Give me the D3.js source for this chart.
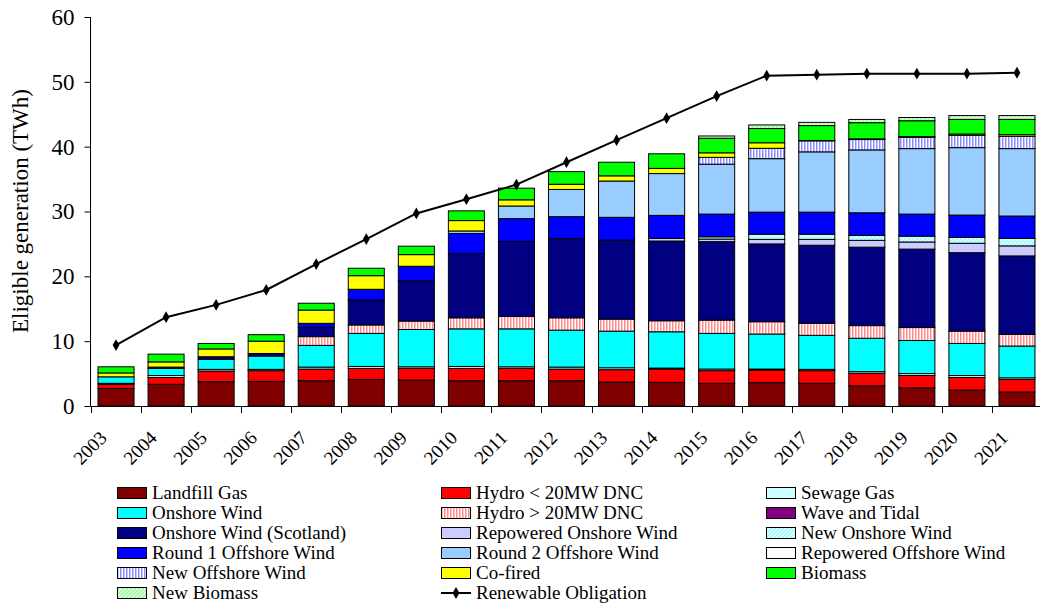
<!DOCTYPE html>
<html>
<head>
<meta charset="utf-8">
<script src="https://cdn.jsdelivr.net/npm/d3@7"></script>
<style>
  html, body { margin: 0; padding: 0; background: #fff; }
  svg text { font-family: "Liberation Serif", "Times New Roman", serif; fill: #000; }
</style>
</head>
<body>
<svg id="chart" width="1040" height="603"></svg>
<script>
// Eligible renewable generation by technology (TWh), stacked, with the Renewable Obligation line
const years = ["2003","2004","2005","2006","2007","2008","2009","2010","2011","2012",
               "2013","2014","2015","2016","2017","2018","2019","2020","2021"];

const landfillGas       = [2.7, 3.35, 3.75, 3.8, 3.9, 4.1, 4.0, 3.9, 3.9, 3.9, 3.7, 3.65, 3.5, 3.6, 3.5, 3.1, 2.8, 2.45, 2.15];
const hydroSmall        = [0.65, 1.05, 1.65, 1.65, 1.8, 1.7, 1.8, 1.9, 1.9, 1.8, 1.9, 2.05, 1.95, 1.95, 1.95, 1.95, 1.9, 1.95, 1.95];
const sewageGas         = [0.15, 0.3, 0.25, 0.2, 0.3, 0.3, 0.25, 0.3, 0.25, 0.3, 0.3, 0.15, 0.25, 0.15, 0.2, 0.25, 0.3, 0.3, 0.25];
const onshoreWind       = [1.0, 1.1, 1.55, 2.05, 3.35, 5.1, 5.75, 5.8, 5.85, 5.7, 5.65, 5.6, 5.5, 5.4, 5.25, 5.15, 5.1, 4.95, 4.9];
const hydroLarge        = [0, 0, 0, 0, 1.35, 1.3, 1.3, 1.7, 1.9, 1.9, 1.85, 1.7, 2.05, 1.9, 1.85, 1.95, 2.0, 1.9, 1.8];
const waveTidal         = [0, 0, 0, 0, 0, 0, 0, 0, 0, 0, 0, 0, 0, 0, 0, 0, 0, 0, 0];
const onshoreScotland   = [0, 0.2, 0.4, 0.4, 1.45, 3.85, 6.2, 9.9, 11.6, 12.2, 12.2, 12.3, 12.1, 12.0, 12.05, 12.1, 12.1, 12.1, 12.1];
const repoweredOnshore  = [0, 0, 0, 0, 0, 0, 0, 0, 0, 0, 0, 0.4, 0.4, 0.7, 0.9, 1.05, 1.1, 1.45, 1.55];
const newOnshore        = [0, 0, 0, 0, 0, 0, 0, 0, 0, 0, 0, 0, 0.35, 0.8, 0.8, 0.75, 0.9, 0.9, 1.15];
const round1Offshore    = [0, 0, 0, 0, 0.6, 1.65, 2.25, 3.1, 3.5, 3.4, 3.5, 3.55, 3.5, 3.4, 3.4, 3.5, 3.4, 3.45, 3.45];
const round2Offshore    = [0, 0, 0, 0, 0, 0, 0, 0.4, 1.95, 4.2, 5.6, 6.45, 7.7, 8.25, 9.3, 9.7, 10.1, 10.4, 10.4];
const repoweredOffshore = [0, 0, 0, 0, 0, 0, 0, 0, 0, 0, 0, 0, 0, 0, 0, 0, 0, 0, 0];
const newOffshore       = [0, 0, 0, 0, 0, 0, 0, 0, 0, 0, 0, 0, 1.05, 1.6, 1.7, 1.6, 1.75, 1.9, 1.9];
const coFired           = [0.6, 0.8, 1.2, 1.9, 2.05, 2.1, 1.8, 1.6, 0.95, 0.8, 0.8, 0.8, 0.7, 0.85, 0.05, 0.1, 0.1, 0.2, 0.25];
const biomass           = [0.95, 1.2, 0.85, 1.0, 1.05, 1.15, 1.3, 1.5, 1.8, 1.95, 2.1, 2.25, 2.25, 2.2, 2.3, 2.5, 2.45, 2.25, 2.35];
const newBiomass        = [0, 0, 0, 0, 0, 0, 0, 0, 0, 0, 0, 0, 0.35, 0.55, 0.5, 0.5, 0.5, 0.6, 0.6];
const renewableObligation = [9.4, 13.7, 15.6, 17.9, 21.9, 25.75, 29.7, 31.9, 34.15, 37.6, 41.0, 44.4, 47.8, 50.95, 51.1, 51.25, 51.25, 51.25, 51.4];

const yTicks = [0, 10, 20, 30, 40, 50, 60];

// Series in stacking order (bottom to top), which is also the legend order
const series = [
  { name: "Landfill Gas",              values: landfillGas,       fill: "#800000" },
  { name: "Hydro < 20MW DNC",          values: hydroSmall,        fill: "#ff0000" },
  { name: "Sewage Gas",                values: sewageGas,         fill: "#ccffff" },
  { name: "Onshore Wind",              values: onshoreWind,       fill: "#00ffff" },
  { name: "Hydro > 20MW DNC",          values: hydroLarge,        fill: "url(#pat-hydro)" },
  { name: "Wave and Tidal",            values: waveTidal,         fill: "#800080" },
  { name: "Onshore Wind (Scotland)",   values: onshoreScotland,   fill: "#000080" },
  { name: "Repowered Onshore Wind",    values: repoweredOnshore,  fill: "#ccccff" },
  { name: "New Onshore Wind",          values: newOnshore,        fill: "url(#pat-newonshore)" },
  { name: "Round 1 Offshore Wind",     values: round1Offshore,    fill: "#0000ff" },
  { name: "Round 2 Offshore Wind",     values: round2Offshore,    fill: "#99ccff" },
  { name: "Repowered Offshore Wind",   values: repoweredOffshore, fill: "#ffffff" },
  { name: "New Offshore Wind",         values: newOffshore,       fill: "url(#pat-newoffshore)" },
  { name: "Co-fired",                  values: coFired,           fill: "#ffff00" },
  { name: "Biomass",                   values: biomass,           fill: "#00ff00" },
  { name: "New Biomass",               values: newBiomass,        fill: "url(#pat-newbiomass)" }
];

const svg = d3.select("#chart");
svg.append("rect").attr("width", 1040).attr("height", 603).attr("fill", "#fff");

// Fill patterns
const defs = svg.append("defs");
function stripes(id, bg, fg, w) {
  const p = defs.append("pattern").attr("id", id).attr("patternUnits", "userSpaceOnUse")
    .attr("width", 3).attr("height", 3);
  p.append("rect").attr("width", 3).attr("height", 3).attr("fill", bg);
  p.append("rect").attr("x", 0).attr("width", w).attr("height", 3).attr("fill", fg);
}
function diagonal(id, bg, fg) {
  const p = defs.append("pattern").attr("id", id).attr("patternUnits", "userSpaceOnUse")
    .attr("width", 4).attr("height", 4);
  p.append("rect").attr("width", 4).attr("height", 4).attr("fill", bg);
  p.append("path").attr("d", "M-1,1 L1,-1 M0,4 L4,0 M3,5 L5,3")
    .attr("stroke", fg).attr("stroke-width", 1);
}
stripes("pat-hydro", "#ffffff", "#ff8c8c", 1.5);
stripes("pat-newoffshore", "#ffffff", "#8c8cff", 1.5);
diagonal("pat-newonshore", "#ccffff", "#99eeee");
diagonal("pat-newbiomass", "#ccffcc", "#99ee99");

// Scales
const plotLeft = 91, plotRight = 1042, plotTop = 17, plotBottom = 406;
const x = d3.scaleBand().domain(years).range([plotLeft, plotRight])
  .paddingInner(0.28).paddingOuter(0.14);
const y = d3.scaleLinear().domain([0, 60]).range([plotBottom, plotTop]);

// Stacked data
const table = years.map((yr, i) => {
  const row = { year: yr };
  series.forEach(s => { row[s.name] = s.values[i]; });
  return row;
});
const stacked = d3.stack().keys(series.map(s => s.name))(table);

// Bars
const layers = svg.append("g").selectAll("g").data(stacked).join("g")
  .attr("fill", (d, i) => series[i].fill);
layers.selectAll("rect")
  .data(d => d.filter(seg => seg[1] - seg[0] > 0))
  .join("rect")
  .attr("x", d => x(d.data.year))
  .attr("width", x.bandwidth())
  .attr("y", d => y(d[1]))
  .attr("height", d => y(d[0]) - y(d[1]))
  .attr("stroke", "#000")
  .attr("stroke-width", 1);

// Y axis
const yAxis = svg.append("g").attr("transform", `translate(${plotLeft - 0.5},0)`)
  .call(d3.axisLeft(y).tickValues(yTicks).tickSize(6).tickPadding(10).tickFormat(d3.format("d")));
yAxis.select(".domain").attr("stroke", "#000").attr("d", `M-0,${plotTop}V${plotBottom}`);
yAxis.selectAll(".tick line").attr("stroke", "#000");
yAxis.selectAll(".tick text").attr("font-size", 23).attr("font-family", "Liberation Serif");

// X axis: line plus tick marks at category boundaries
const xAxisG = svg.append("g");
xAxisG.append("line")
  .attr("x1", plotLeft - 0.5).attr("x2", 1040)
  .attr("y1", plotBottom + 0.5).attr("y2", plotBottom + 0.5)
  .attr("stroke", "#000");
const boundaries = years.map(yr => x(yr) - x.step() * x.paddingInner() / 2);
xAxisG.selectAll("line.tick").data(boundaries).join("line")
  .attr("class", "tick")
  .attr("x1", d => Math.round(d) + 0.5).attr("x2", d => Math.round(d) + 0.5)
  .attr("y1", plotBottom).attr("y2", plotBottom + 7)
  .attr("stroke", "#000");
xAxisG.selectAll("text").data(years).join("text")
  .attr("transform", d => `translate(${x(d) + x.bandwidth() / 2 - 8},${plotBottom + 33}) rotate(-45)`)
  .attr("text-anchor", "end")
  .attr("font-size", 19)
  .text(d => d);

// Y axis title
svg.append("text")
  .attr("transform", `translate(28,211) rotate(-90)`)
  .attr("text-anchor", "middle")
  .attr("font-size", 23)
  .text("Eligible generation (TWh)");

// Renewable Obligation line
const line = d3.line()
  .x((d, i) => x(years[i]) + x.bandwidth() / 2)
  .y(d => y(d));
svg.append("path").datum(renewableObligation)
  .attr("d", line).attr("fill", "none").attr("stroke", "#000").attr("stroke-width", 2);
const diamond = d3.symbol().type(d3.symbolDiamond).size(40);
svg.append("g").selectAll("path").data(renewableObligation).join("path")
  .attr("d", diamond)
  .attr("transform", (d, i) => `translate(${x(years[i]) + x.bandwidth() / 2},${y(d)})`)
  .attr("fill", "#000");

// Legend
const legendItems = series.map(s => ({ name: s.name, fill: s.fill, kind: "box" }))
  .concat([{ name: "Renewable Obligation", kind: "line" }]);
const colX = [117, 441, 766];
const legend = svg.append("g");
legendItems.forEach((item, i) => {
  const cx = colX[i % 3];
  const cy = 493 + Math.floor(i / 3) * 20;
  const g = legend.append("g");
  if (item.kind === "box") {
    g.append("rect").attr("x", cx + 0.5).attr("y", cy - 5.5).attr("width", 29).attr("height", 11)
      .attr("fill", item.fill).attr("stroke", "#000").attr("stroke-width", 1);
  } else {
    g.append("line").attr("x1", cx).attr("x2", cx + 30).attr("y1", cy).attr("y2", cy)
      .attr("stroke", "#000").attr("stroke-width", 2);
    g.append("path").attr("d", diamond).attr("transform", `translate(${cx + 15},${cy})`).attr("fill", "#000");
  }
  g.append("text").attr("x", cx + 35).attr("y", cy + 6).attr("font-size", 19).text(item.name);
});
</script>
</body>
</html>
